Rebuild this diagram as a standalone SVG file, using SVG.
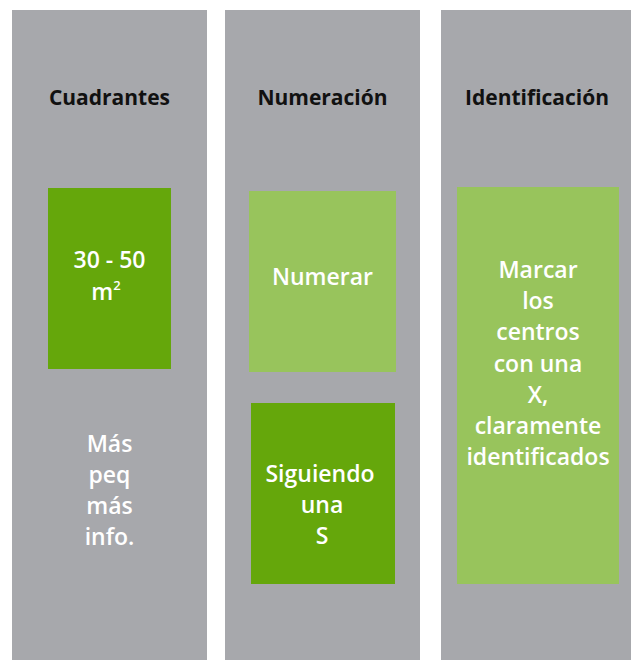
<svg xmlns="http://www.w3.org/2000/svg" width="631" height="660" viewBox="0 0 631 660">
<style>
.col{fill:#a7a8ac}
.dg{fill:#65a70b}
.lg{fill:#98c45c}
.h{font-family:"Open Sans","Liberation Sans",sans-serif;font-weight:700;font-size:21px;fill:#111;text-anchor:middle}
.t{font-family:"Open Sans","Liberation Sans",sans-serif;font-weight:600;font-size:23px;fill:#fff;text-anchor:middle}
</style>
<rect width="631" height="660" fill="#fff"/>
<g id="col-cuadrantes">
<rect class="col" x="12" y="10" width="195" height="650"/>
<text class="h" x="109.5" y="105">Cuadrantes</text>
</g>
<g id="col-numeracion">
<rect class="col" x="225" y="10" width="195" height="650"/>
<text class="h" x="322.5" y="105">Numeración</text>
</g>
<g id="col-identificacion">
<rect class="col" x="441" y="10" width="190" height="650"/>
<text class="h" x="537" y="105">Identificación</text>
</g>
<g id="node-area">
<rect class="dg" x="48" y="188" width="123" height="181"/>
<text class="t" x="109.5" y="268">30 - 50</text>
<text class="t" x="106" y="300">m<tspan font-size="13" dy="-10">2</tspan></text>
</g>
<g id="node-mas">
<text class="t" x="109.5" y="452">Más</text>
<text class="t" x="109.5" y="483">peq</text>
<text class="t" x="109.5" y="514">más</text>
<text class="t" x="109.5" y="545">info.</text>
</g>
<g id="node-numerar">
<rect class="lg" x="249" y="191" width="147" height="181"/>
<text class="t" x="322.5" y="285">Numerar</text>
</g>
<g id="node-siguiendo">
<rect class="dg" x="251" y="403" width="144" height="181"/>
<text class="t" x="320" y="482">Siguiendo</text>
<text class="t" x="322" y="513">una</text>
<text class="t" x="322" y="544">S</text>
</g>
<g id="node-marcar">
<rect class="lg" x="457" y="187" width="162" height="397"/>
<text class="t" x="538" y="278">Marcar</text>
<text class="t" x="538" y="309">los</text>
<text class="t" x="538" y="340">centros</text>
<text class="t" x="538" y="372">con una</text>
<text class="t" x="538" y="403">X,</text>
<text class="t" x="538" y="434">claramente</text>
<text class="t" x="538" y="465">identificados</text>
</g>
<g id="connectors"/>
</svg>
